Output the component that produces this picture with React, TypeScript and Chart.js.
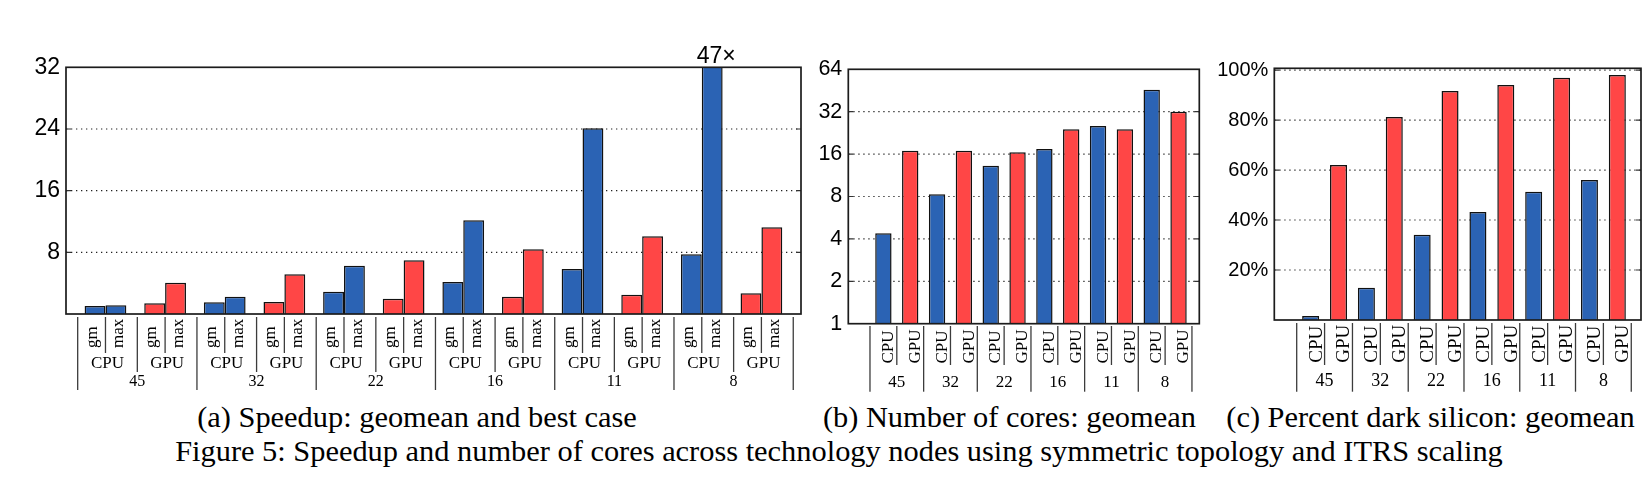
import React, { useEffect, useRef } from 'react';
import { Chart, registerables } from 'chart.js';

Chart.register(...registerables);

// ---------- data ----------
const nodes = ['45', '32', '22', '16', '11', '8'];
const kinds = ['CPU', 'GPU'];
const speedupMetrics = ['gm', 'max'];

const speedupCpuGm = [1.04, 1.52, 2.89, 4.15, 5.84, 7.74];
const speedupCpuMax = [1.13, 2.25, 6.27, 12.15, 24.08, 47];
const speedupGpuGm = [1.39, 1.56, 1.98, 2.25, 2.5, 2.68];
const speedupGpuMax = [4.06, 5.15, 6.96, 8.39, 10.1, 11.24];

const coresCpu = [4.38, 8.29, 13.2, 17.4, 25.3, 45.9];
const coresGpu = [16.9, 16.9, 16.5, 24.0, 24.0, 32];

const darkCpu = [1.6, 12.9, 34.1, 43.2, 51.3, 56.0];
const darkGpu = [62, 81.2, 91.6, 94, 96.9, 98];

const speedupTicks = [8, 16, 24, 32];
const coresTicks = [1, 2, 4, 8, 16, 32, 64];
const darkTicks = [20, 40, 60, 80, 100];

const subCaptions = [
  '(a) Speedup: geomean and best case',
  '(b) Number of cores: geomean',
  '(c) Percent dark silicon: geomean',
];
const figureCaption =
  'Figure 5: Speedup and number of cores across technology nodes using symmetric topology and ITRS scaling';

// ---------- styles ----------
const BLUE = '#2b63b4';
const RED = '#ff4646';
const BAR_BORDER = '#111111';
const SEP = '#3c3c3c';
const SANS = '"Liberation Sans", Arial, sans-serif';
const SERIF = '"Liberation Serif", "Times New Roman", serif';

const interleave = (cpu: number[], gpu: number[]) => cpu.flatMap((v, j) => [v, gpu[j]]);
const toPoints = (arr: number[]) => arr.map((y, i) => ({ x: i, y }));
const kindColors = (arr: number[]) => arr.map((_, i) => (i % 2 === 0 ? BLUE : RED));
const subgroupLabels = nodes.flatMap(() => kinds);
const positions = subgroupLabels.map((_, i) => i);

function vline(ctx: CanvasRenderingContext2D, x: number, y1: number, y2: number) {
  ctx.beginPath();
  ctx.moveTo(x, y1);
  ctx.lineTo(x, y2);
  ctx.stroke();
}

function rotText(ctx: CanvasRenderingContext2D, text: string, x: number, y: number) {
  ctx.save();
  ctx.translate(x, y);
  ctx.rotate(-Math.PI / 2);
  ctx.textAlign = 'left';
  ctx.textBaseline = 'alphabetic';
  ctx.fillText(text, 0, 0);
  ctx.restore();
}

type Spec = {
  left: number;
  width: number;
  height: number;
  padTop: number;
  padRight: number;
  yWidth: number;
  xHeight: number;
  xMin: number;
  xMax: number;
  yType: 'linear' | 'logarithmic';
  yMin: number;
  yMax: number;
  yTicks: number[];
  yFormat: (v: number) => string;
  yFont: number;
  datasets: any[];
  labels: (chart: any) => void;
};

// ---------- chart (a) ----------
const SEP_OFF_A = 0.034;
const gmValues = interleave(speedupCpuGm, speedupGpuGm);
const maxValues = interleave(speedupCpuMax, speedupGpuMax);

const specA: Spec = {
  left: 0,
  width: 815,
  height: 400,
  padTop: 67.3,
  padRight: 14,
  yWidth: 66,
  xHeight: 86,
  xMin: -0.662,
  xMax: 11.664,
  yType: 'linear',
  yMin: 0,
  yMax: 32,
  yTicks: speedupTicks,
  yFormat: (v) => String(v),
  yFont: 23,
  datasets: [
    {
      label: speedupMetrics[0],
      data: toPoints(gmValues),
      backgroundColor: kindColors(gmValues),
      borderColor: BAR_BORDER,
      borderWidth: 1.5,
      categoryPercentage: 0.7,
      barPercentage: 1,
      clip: 0,
    },
    {
      label: speedupMetrics[1],
      data: toPoints(maxValues),
      backgroundColor: kindColors(maxValues),
      borderColor: BAR_BORDER,
      borderWidth: 1.5,
      categoryPercentage: 0.7,
      barPercentage: 1,
      clip: 0,
    },
  ],
  labels: (chart) => {
    const ctx: CanvasRenderingContext2D = chart.ctx;
    const xs = chart.scales.x;
    const area = chart.chartArea;
    const top = area.bottom + 3;
    ctx.save();
    ctx.strokeStyle = SEP;
    ctx.lineWidth = 1.3;
    for (let k = 0; k <= subgroupLabels.length; k++) {
      const px = xs.getPixelForValue(k - 0.5 + SEP_OFF_A);
      vline(ctx, px, top, k % 2 === 0 ? area.bottom + 76 : area.bottom + 58);
    }
    for (let i = 0; i < subgroupLabels.length; i++) {
      vline(ctx, xs.getPixelForValue(i), top, area.bottom + 39);
    }
    ctx.fillStyle = '#000';
    ctx.font = `17px ${SERIF}`;
    const gmMeta = chart.getDatasetMeta(0);
    const maxMeta = chart.getDatasetMeta(1);
    for (let i = 0; i < subgroupLabels.length; i++) {
      rotText(ctx, speedupMetrics[0], gmMeta.data[i].x + 1.5, area.bottom + 34);
      rotText(ctx, speedupMetrics[1], maxMeta.data[i].x + 7.5, area.bottom + 34);
    }
    ctx.textAlign = 'center';
    ctx.textBaseline = 'alphabetic';
    subgroupLabels.forEach((lab, i) => {
      ctx.fillText(lab, xs.getPixelForValue(i + SEP_OFF_A), area.bottom + 53.5);
    });
    ctx.font = `16px ${SERIF}`;
    nodes.forEach((n, j) => {
      ctx.fillText(n, xs.getPixelForValue(2 * j + 0.5 + SEP_OFF_A), area.bottom + 71.5);
    });
    // clipped best-case label
    const clippedIdx = maxValues.findIndex((v) => v > 32);
    if (clippedIdx >= 0) {
      ctx.font = `23px ${SANS}`;
      ctx.fillText(`${maxValues[clippedIdx]}\u00d7`, maxMeta.data[clippedIdx].x + 4, area.top - 4.6);
    }
    ctx.restore();
  },
};

// ---------- chart (b) ----------
const coresValues = interleave(coresCpu, coresGpu);
const specB: Spec = {
  left: 815,
  width: 395,
  height: 400,
  padTop: 69.3,
  padRight: 10.7,
  yWidth: 33.3,
  xHeight: 76.3,
  xMin: -1.308,
  xMax: 11.774,
  yType: 'logarithmic',
  yMin: 1,
  yMax: 64,
  yTicks: coresTicks,
  yFormat: (v) => String(v),
  yFont: 21.5,
  datasets: [
    {
      label: 'cores',
      data: toPoints(coresValues),
      backgroundColor: kindColors(coresValues),
      borderColor: BAR_BORDER,
      borderWidth: 1.5,
      categoryPercentage: 1,
      barPercentage: 0.61,
      clip: 0,
    },
  ],
  labels: (chart) => {
    const ctx: CanvasRenderingContext2D = chart.ctx;
    const xs = chart.scales.x;
    const area = chart.chartArea;
    const top = area.bottom + 2.3;
    ctx.save();
    ctx.strokeStyle = SEP;
    ctx.lineWidth = 1.3;
    for (let j = 0; j <= nodes.length; j++) {
      vline(ctx, xs.getPixelForValue(2 * j - 0.5), top, area.bottom + 68);
    }
    for (let j = 0; j < nodes.length; j++) {
      vline(ctx, xs.getPixelForValue(2 * j + 0.5), top, area.bottom + 41.3);
    }
    ctx.fillStyle = '#000';
    ctx.font = `17px ${SERIF}`;
    const meta = chart.getDatasetMeta(0);
    subgroupLabels.forEach((lab, i) => {
      rotText(ctx, lab, meta.data[i].x + 9.7, area.bottom + 39.8);
    });
    ctx.textAlign = 'center';
    ctx.textBaseline = 'alphabetic';
    nodes.forEach((n, j) => {
      ctx.fillText(n, xs.getPixelForValue(2 * j + 0.5), area.bottom + 62.8);
    });
    ctx.restore();
  },
};

// ---------- chart (c) ----------
const darkValues = interleave(darkCpu, darkGpu);
const specC: Spec = {
  left: 1210,
  width: 441,
  height: 400,
  padTop: 68.3,
  padRight: 10,
  yWidth: 64.3,
  xHeight: 80,
  xMin: -1.3035,
  xMax: 11.849,
  yType: 'linear',
  yMin: 0,
  yMax: 100.7,
  yTicks: darkTicks,
  yFormat: (v) => `${v}%`,
  yFont: 20,
  datasets: [
    {
      label: 'dark',
      data: toPoints(darkValues),
      backgroundColor: kindColors(darkValues),
      borderColor: BAR_BORDER,
      borderWidth: 1.5,
      categoryPercentage: 1,
      barPercentage: 0.61,
      clip: 0,
    },
  ],
  labels: (chart) => {
    const ctx: CanvasRenderingContext2D = chart.ctx;
    const xs = chart.scales.x;
    const area = chart.chartArea;
    const top = area.bottom + 3;
    ctx.save();
    ctx.strokeStyle = SEP;
    ctx.lineWidth = 1.3;
    for (let j = 0; j <= nodes.length; j++) {
      vline(ctx, xs.getPixelForValue(2 * j - 0.5), top, area.bottom + 71.7);
    }
    for (let j = 0; j < nodes.length; j++) {
      vline(ctx, xs.getPixelForValue(2 * j + 0.5), top, area.bottom + 45);
    }
    ctx.fillStyle = '#000';
    ctx.font = `19px ${SERIF}`;
    const meta = chart.getDatasetMeta(0);
    subgroupLabels.forEach((lab, i) => {
      rotText(ctx, lab, meta.data[i].x + 10.9, area.bottom + 42.7);
    });
    ctx.textAlign = 'center';
    ctx.textBaseline = 'alphabetic';
    ctx.font = `18px ${SERIF}`;
    nodes.forEach((n, j) => {
      ctx.fillText(n, xs.getPixelForValue(2 * j + 0.5), area.bottom + 66);
    });
    ctx.restore();
  },
};

function buildChart(canvas: HTMLCanvasElement, spec: Spec) {
  const decor = {
    id: 'decor',
    beforeDatasetsDraw(chart: any) {
      const ctx: CanvasRenderingContext2D = chart.ctx;
      const ys = chart.scales.y;
      const area = chart.chartArea;
      ctx.save();
      spec.yTicks.forEach((v) => {
        const y = ys.getPixelForValue(v);
        if (y > area.top + 1 && y < area.bottom - 1) {
          ctx.strokeStyle = '#222';
          ctx.lineWidth = 1.2;
          ctx.setLineDash([1.3, 3.7]);
          ctx.beginPath();
          ctx.moveTo(area.left, y);
          ctx.lineTo(area.right, y);
          ctx.stroke();
          ctx.setLineDash([]);
          ctx.strokeStyle = '#333';
          ctx.beginPath();
          ctx.moveTo(area.left, y);
          ctx.lineTo(area.left + 5, y);
          ctx.moveTo(area.right - 5, y);
          ctx.lineTo(area.right, y);
          ctx.stroke();
        }
      });
      ctx.restore();
    },
    afterDatasetsDraw(chart: any) {
      const ctx: CanvasRenderingContext2D = chart.ctx;
      const area = chart.chartArea;
      ctx.save();
      ctx.strokeStyle = '#1c1c1c';
      ctx.lineWidth = 1.7;
      ctx.strokeRect(area.left, area.top, area.right - area.left, area.bottom - area.top);
      ctx.restore();
    },
    afterDraw(chart: any) {
      spec.labels(chart);
    },
  };

  return new Chart(canvas, {
    type: 'bar',
    data: { datasets: spec.datasets },
    options: {
      animation: false,
      responsive: false,
      maintainAspectRatio: false,
      devicePixelRatio: 1,
      events: [],
      layout: {
        padding: { left: 0, top: spec.padTop, right: spec.padRight, bottom: 0 },
        autoPadding: false,
      } as any,
      plugins: {
        legend: { display: false },
        tooltip: { enabled: false },
        title: { display: false },
      },
      scales: {
        x: {
          type: 'linear',
          min: spec.xMin,
          max: spec.xMax,
          offset: false,
          grid: { display: false, drawTicks: false },
          border: { display: false },
          ticks: { display: false },
          afterBuildTicks: (s: any) => {
            s.ticks = positions.map((v) => ({ value: v }));
          },
          afterFit: (s: any) => {
            s.height = spec.xHeight;
          },
        },
        y: {
          type: spec.yType,
          min: spec.yMin,
          max: spec.yMax,
          grid: { display: false, drawTicks: false },
          border: { display: false },
          ticks: {
            color: '#000',
            padding: 6,
            autoSkip: false,
            font: { family: SANS, size: spec.yFont },
            callback: (v: any) => spec.yFormat(Number(v)),
          },
          afterBuildTicks: (s: any) => {
            s.ticks = spec.yTicks.map((v) => ({ value: v }));
          },
          afterFit: (s: any) => {
            s.width = spec.yWidth;
          },
        },
      } as any,
    },
    plugins: [decor],
  } as any);
}

function Panel({ spec }: { spec: Spec }) {
  const ref = useRef<HTMLCanvasElement | null>(null);
  useEffect(() => {
    if (!ref.current) return;
    const chart = buildChart(ref.current, spec);
    return () => chart.destroy();
  }, [spec]);
  return (
    <canvas
      ref={ref}
      width={spec.width}
      height={spec.height}
      style={{ position: 'absolute', left: spec.left, top: 0, width: spec.width, height: spec.height }}
    />
  );
}

const captionStyle = (center: number, top: number, w: number): React.CSSProperties => ({
  position: 'absolute',
  left: center - w / 2,
  top,
  width: w,
  textAlign: 'center',
  whiteSpace: 'nowrap',
  fontFamily: SERIF,
  fontSize: 30.4,
  lineHeight: '30px',
  color: '#000',
});

export default function App() {
  return (
    <div style={{ position: 'absolute', left: 0, top: 0, width: 1651, height: 488, background: '#fff', overflow: 'hidden' }}>
      <Panel spec={specA} />
      <Panel spec={specB} />
      <Panel spec={specC} />
      <div style={captionStyle(417, 402, 600)}>{subCaptions[0]}</div>
      <div style={captionStyle(1009.4, 402, 420)}>{subCaptions[1]}</div>
      <div style={captionStyle(1430.5, 402, 440)}>{subCaptions[2]}</div>
      <div style={captionStyle(839, 436, 1600)}>{figureCaption}</div>
    </div>
  );
}
